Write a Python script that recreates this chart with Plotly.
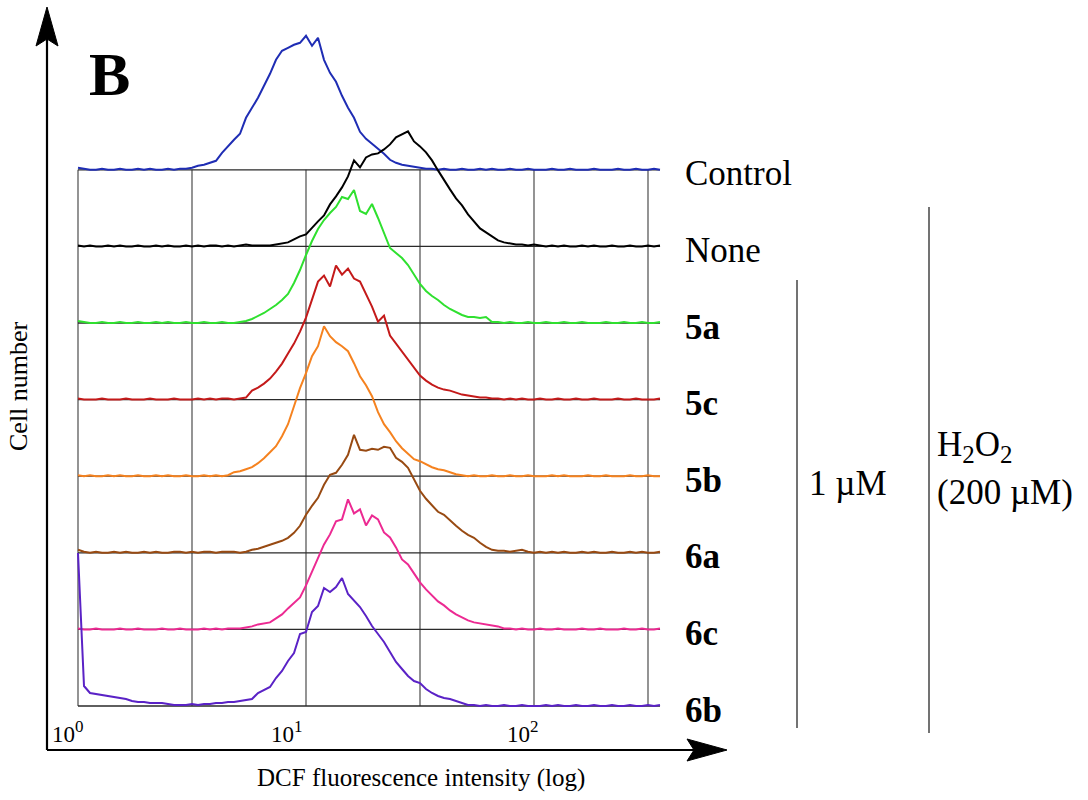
import plotly.graph_objects as go

# Flow-cytometry channels (log-amplified DCF signal), one value per channel
channels = list(range(98))

samples = ["Control", "None", "5a", "5c", "5b", "6a", "6c", "6b"]
bold_label = [False, False, True, True, True, True, True, True]
colors = ["#1f2db4", "#000000", "#2fe02f", "#c41a1a",
          "#f5821f", "#984a12", "#ec2a92", "#5a22c6"]

control = [2, 1, 0, 0, 1, 0, 0, 1, 0, 0,
           1, 0, 1, 0, 0, 1, 0, 1, 1, 2,
           4, 5, 7, 9, 17, 24, 30, 36, 52, 62,
           72, 84, 96, 110, 119, 122, 125, 127, 134, 124,
           132, 110, 97, 88, 74, 62, 52, 38, 31, 26,
           21, 16, 10, 7, 5, 4, 3, 2, 1, 1,
           0, 1, 0, 0, 1, 0, 0, 1, 0, 1,
           0, 0, 1, 0, 0, 1, 0, 0, 0, 1,
           0, 0, 1, 0, 0, 0, 1, 0, 0, 0,
           1, 0, 0, 1, 0, 0, 1, 0]
none = [1, 0, 1, 0, 0, 1, 0, 1, 0, 0,
        1, 0, 0, 1, 0, 1, 0, 0, 1, 0,
        1, 0, 1, 1, 0, 1, 0, 1, 2, 1,
        1, 1, 1, 2, 3, 4, 7, 10, 12, 19,
        25, 31, 42, 50, 59, 70, 86, 79, 89, 92,
        93, 97, 102, 109, 112, 115, 105, 100, 94, 86,
        76, 66, 57, 48, 41, 32, 25, 18, 14, 10,
        6, 4, 3, 2, 2, 1, 2, 1, 0, 1,
        0, 1, 0, 0, 1, 0, 1, 0, 0, 1,
        0, 0, 1, 0, 0, 1, 0, 1]
c5a = [2, 1, 0, 0, 1, 0, 0, 1, 0, 0,
       1, 0, 0, 1, 0, 1, 0, 0, 1, 0,
       0, 1, 0, 0, 1, 0, 0, 1, 2, 4,
       7, 10, 14, 18, 23, 29, 40, 53, 68, 82,
       94, 103, 110, 116, 126, 124, 133, 112, 109, 119,
       105, 90, 75, 70, 65, 58, 48, 39, 32, 27,
       23, 18, 14, 11, 8, 6, 6, 5, 6, 1,
       1, 0, 1, 0, 0, 1, 0, 0, 1, 0,
       0, 1, 0, 0, 1, 0, 0, 0, 1, 0,
       0, 1, 0, 0, 1, 0, 0, 1]
c5c = [1, 0, 0, 0, 1, 0, 0, 0, 1, 0,
       0, 0, 1, 0, 0, 0, 1, 0, 0, 0,
       1, 0, 1, 0, 1, 1, 0, 1, 2, 9,
       12, 16, 21, 28, 36, 46, 56, 68, 82, 100,
       118, 124, 113, 134, 125, 131, 121, 118, 106, 93,
       78, 84, 64, 56, 47, 40, 32, 24, 19, 15,
       12, 10, 9, 7, 5, 4, 3, 2, 2, 1,
       1, 0, 1, 0, 1, 0, 0, 1, 0, 0,
       1, 0, 0, 1, 0, 0, 1, 0, 0, 0,
       1, 0, 0, 1, 0, 0, 0, 1]
c5b = [1, 0, 1, 0, 0, 1, 0, 1, 0, 0,
       1, 0, 0, 1, 0, 1, 0, 0, 1, 0,
       0, 1, 0, 1, 0, 1, 4, 5, 7, 9,
       13, 18, 24, 30, 40, 52, 70, 88, 103, 120,
       130, 150, 140, 134, 130, 125, 113, 100, 91, 80,
       64, 52, 44, 35, 28, 22, 17, 15, 12, 9,
       7, 6, 4, 2, 1, 0, 1, 0, 0, 1,
       0, 0, 1, 0, 0, 1, 0, 0, 0, 1,
       0, 1, 0, 0, 0, 1, 0, 0, 1, 0,
       0, 0, 1, 0, 0, 1, 0, 0]
c6a = [3, 1, 0, 1, 0, 0, 1, 0, 1, 0,
       0, 1, 0, 1, 0, 0, 1, 1, 0, 1,
       0, 1, 1, 0, 1, 1, 1, 0, 1, 3,
       4, 6, 8, 10, 12, 15, 20, 27, 38, 47,
       55, 68, 78, 80, 88, 98, 118, 103, 102, 104,
       103, 106, 105, 95, 91, 85, 74, 62, 54, 48,
       41, 38, 32, 27, 22, 18, 15, 10, 6, 3,
       2, 2, 1, 2, 3, 1, 0, 1, 0, 1,
       0, 1, 0, 0, 1, 0, 1, 0, 0, 1,
       0, 0, 1, 0, 1, 0, 0, 1]
c6c = [1, 0, 0, 1, 0, 0, 0, 1, 0, 0,
       1, 0, 0, 0, 1, 0, 0, 1, 0, 0,
       0, 1, 0, 1, 0, 1, 1, 1, 2, 3,
       5, 6, 7, 11, 15, 21, 27, 32, 44, 58,
       72, 85, 95, 108, 110, 130, 116, 120, 104, 114,
       110, 97, 92, 82, 70, 65, 56, 47, 40, 34,
       28, 24, 19, 15, 12, 9, 7, 6, 5, 4,
       3, 1, 1, 0, 1, 0, 0, 1, 0, 0,
       1, 0, 0, 0, 1, 0, 0, 1, 0, 0,
       0, 1, 0, 0, 1, 0, 0, 1]
c6b = [153, 20, 13, 12, 11, 10, 9, 8, 7, 5,
       4, 4, 3, 3, 3, 2, 1, 1, 1, 2,
       1, 2, 2, 3, 3, 4, 4, 5, 6, 7,
       13, 16, 19, 28, 35, 45, 53, 72, 74, 94,
       100, 118, 114, 119, 128, 112, 106, 99, 90, 80,
       72, 64, 54, 44, 37, 30, 25, 23, 17, 13,
       10, 8, 7, 5, 3, 1, 1, 0, 1, 0,
       0, 1, 0, 0, 1, 0, 0, 0, 1, 0,
       1, 0, 0, 1, 0, 0, 1, 0, 0, 1,
       0, 0, 1, 0, 0, 1, 0, 1]

counts = [control, none, c5a, c5c, c5b, c6a, c6c, c6b]

ROW_GAP = 76.6                      # vertical offset between stacked histograms
grid_channels = [0, 19, 38, 57, 76, 95]
decade_channels = [-1.75, 34.75, 74.1]
decade_exponents = ["0", "1", "2"]

# page geometry (pixels)
FIG_W, FIG_H = 1088, 800
L, R, T, B = 45, 725, 15, 750
PW, PH = R - L, B - T


def px(xp):
    return (xp - L) / PW


def py(yp):
    return (B - yp) / PH


def sized(text, size):
    return "<span style='font-size:%dpx'>%s</span>" % (size, text)


n = len(samples)
offsets = [(n - 1 - i) * ROW_GAP for i in range(n)]

fig = go.Figure()
for name, col, cnt, off in zip(samples, colors, counts, offsets):
    fig.add_trace(go.Scatter(
        x=channels, y=[v + off for v in cnt], mode="lines", name=name,
        line=dict(color=col, width=2), hoverinfo="skip", showlegend=False))

shapes = []
top = offsets[0]
for g in grid_channels:
    shapes.append(dict(type="line", xref="x", yref="y", x0=g, x1=g, y0=0, y1=top,
                       line=dict(color="#5a5a5a", width=1.3), layer="below"))
for off in offsets:
    shapes.append(dict(type="line", xref="x", yref="y", x0=channels[0], x1=channels[-1],
                       y0=off, y1=off, line=dict(color="#2a2a2a", width=1.3), layer="below"))

# axis arrows
shapes.append(dict(type="line", xref="paper", yref="paper", x0=px(47), x1=px(700),
                   y0=py(750), y1=py(750), line=dict(color="black", width=2.2)))
shapes.append(dict(type="line", xref="paper", yref="paper", x0=px(47), x1=px(47),
                   y0=py(750), y1=py(30), line=dict(color="black", width=2.2)))
head_x = "M {},{} L {},{} L {},{} L {},{} Z".format(
    px(727), py(750), px(687), py(739), px(694), py(750), px(687), py(761))
head_y = "M {},{} L {},{} L {},{} L {},{} Z".format(
    px(47), py(7), px(36), py(46), px(47), py(39), px(58), py(46))
for p in (head_x, head_y):
    shapes.append(dict(type="path", xref="paper", yref="paper", path=p,
                       fillcolor="black", line=dict(color="black", width=1)))

# group brackets on the right
shapes.append(dict(type="line", xref="paper", yref="paper", x0=px(797), x1=px(797),
                   y0=py(280), y1=py(728), line=dict(color="#444", width=1.5)))
shapes.append(dict(type="line", xref="paper", yref="paper", x0=px(929), x1=px(929),
                   y0=py(207), y1=py(733), line=dict(color="#444", width=1.5)))

SERIF = "Liberation Serif, Times New Roman, serif"
ann = []
for name, bl, off in zip(samples, bold_label, offsets):
    ann.append(dict(x=100.8, y=off, xref="x", yref="y", xanchor="left", yanchor="middle",
                    yshift=-4, showarrow=False, text=name,
                    font=dict(family=SERIF, size=35, color="black",
                              weight="bold" if bl else "normal")))
# decade labels along the intensity axis
for xc, ex in zip(decade_channels, decade_exponents):
    ann.append(dict(x=xc, y=py(749), xref="x", yref="paper", xanchor="center",
                    yanchor="bottom", showarrow=False,
                    text=sized("10", 23) + "<sup>" + sized(ex, 17) + "</sup>",
                    font=dict(family=SERIF, size=23, color="black")))
ann.append(dict(x=px(87), y=py(74), xref="paper", yref="paper", xanchor="left",
                yanchor="middle", showarrow=False, text="B",
                font=dict(family=SERIF, size=62, color="black", weight="bold")))
ann.append(dict(x=px(18), y=py(386), xref="paper", yref="paper", textangle=-90,
                xanchor="center", yanchor="middle", showarrow=False, text="Cell number",
                font=dict(family=SERIF, size=26, color="black")))
ann.append(dict(x=px(421), y=py(778), xref="paper", yref="paper", xanchor="center",
                yanchor="middle", showarrow=False, text="DCF fluorescence intensity (log)",
                font=dict(family=SERIF, size=25, color="black")))
ann.append(dict(x=px(807), y=py(483), xref="paper", yref="paper", xanchor="left",
                yanchor="middle", showarrow=False, text="1 \u00b5M",
                font=dict(family=SERIF, size=35, color="black")))
ann.append(dict(x=px(935), y=py(447), xref="paper", yref="paper", xanchor="left",
                yanchor="middle", showarrow=False,
                text=sized("H", 35) + "<sub>" + sized("2", 25) + "</sub>"
                + sized("O", 35) + "<sub>" + sized("2", 25) + "</sub>",
                font=dict(family=SERIF, size=35, color="black")))
ann.append(dict(x=px(935), y=py(492), xref="paper", yref="paper", xanchor="left",
                yanchor="middle", showarrow=False, text="(200 \u00b5M)",
                font=dict(family=SERIF, size=35, color="black")))

fig.update_layout(
    width=FIG_W, height=FIG_H,
    margin=dict(l=L, r=FIG_W - R, t=T, b=FIG_H - B, pad=0),
    paper_bgcolor="white", plot_bgcolor="white",
    shapes=shapes, annotations=ann, showlegend=False,
    xaxis=dict(range=[(L - 78) / 6, (R - 78) / 6], showgrid=False, zeroline=False,
               showline=False, ticks="", showticklabels=False, fixedrange=True),
    yaxis=dict(range=[706 - B, 706 - T], showgrid=False, zeroline=False, showline=False,
               showticklabels=False, ticks="", fixedrange=True),
)

fig.write_html("out.html")
